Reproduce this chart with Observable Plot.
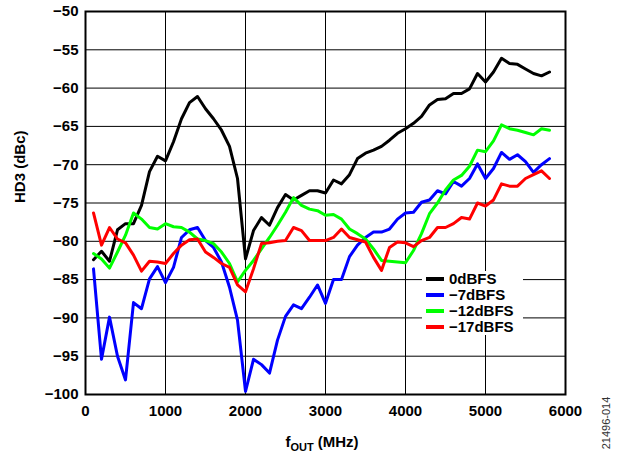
<!DOCTYPE html>
<html><head><meta charset="utf-8">
<script src="https://cdn.jsdelivr.net/npm/d3@7"></script>
<script src="https://cdn.jsdelivr.net/npm/@observablehq/plot@0.6"></script>
<style>
body{margin:0;background:#fff;}
#wrap{position:relative;width:618px;height:452px;font-family:"Liberation Sans",Arial,sans-serif;}
#legend{position:absolute;left:422px;top:271px;width:101px;background:#fff;font-weight:bold;font-size:15px;color:#000;}
.row{height:16px;line-height:16px;display:flex;align-items:center;white-space:nowrap;}
.row svg{margin-left:4px;margin-right:5px;flex:none;}
</style></head><body><div id="wrap"></div>
<script>
const freq = [100,200,300,400,500,600,700,800,900,1000,1100,1200,1300,1400,1500,1600,1700,1800,1900,2000,2100,2200,2300,2400,2500,2600,2700,2800,2900,3000,3100,3200,3300,3400,3500,3600,3700,3800,3900,4000,4100,4200,4300,4400,4500,4600,4700,4800,4900,5000,5100,5200,5300,5400,5500,5600,5700,5800];
const hd3_0dBFS = [-82.4,-81.3,-82.6,-78.5,-77.7,-77.7,-75.3,-70.9,-68.9,-69.5,-67.0,-64.0,-61.9,-61.1,-62.7,-64.0,-65.5,-67.6,-71.8,-82.3,-78.6,-76.9,-77.9,-75.6,-73.9,-74.6,-74.0,-73.4,-73.4,-73.7,-72.0,-72.5,-71.3,-69.2,-68.5,-68.1,-67.6,-66.8,-65.9,-65.3,-64.6,-63.7,-62.2,-61.5,-61.4,-60.7,-60.7,-60.1,-58.1,-59.2,-57.9,-56.1,-56.8,-56.9,-57.5,-58.1,-58.4,-57.9];
const hd3_7dBFS = [-83.6,-95.4,-89.9,-95.0,-98.1,-88.0,-88.8,-84.9,-83.3,-85.4,-83.4,-79.5,-78.5,-78.2,-79.9,-80.8,-82.7,-86.0,-90.3,-99.6,-95.4,-96.1,-97.2,-92.9,-89.8,-88.3,-88.8,-87.3,-85.7,-88.1,-85.0,-85.0,-82.0,-80.5,-79.5,-78.8,-78.8,-78.4,-77.1,-76.3,-76.2,-74.9,-74.6,-73.4,-73.8,-72.2,-72.8,-71.8,-69.9,-71.8,-70.5,-68.4,-69.3,-68.7,-69.6,-71.0,-70.0,-69.2];
const hd3_12dBFS = [-81.6,-82.3,-83.5,-81.4,-79.2,-76.3,-77.1,-78.2,-78.4,-77.7,-78.1,-78.2,-78.8,-79.7,-79.9,-80.3,-81.4,-82.9,-85.3,-83.8,-82.5,-81.0,-79.5,-77.9,-76.2,-74.3,-75.3,-75.8,-76.0,-76.6,-76.5,-77.1,-78.4,-79.0,-79.7,-81.0,-82.5,-82.6,-82.7,-82.8,-81.2,-79.0,-76.4,-75.0,-73.3,-72.0,-71.4,-70.2,-68.1,-68.3,-66.9,-64.8,-65.3,-65.5,-65.8,-66.1,-65.3,-65.5];
const hd3_17dBFS = [-76.3,-80.5,-78.2,-79.7,-80.2,-81.8,-83.9,-82.6,-82.7,-82.9,-81.6,-80.5,-79.8,-79.7,-81.4,-82.1,-82.9,-83.4,-85.7,-86.6,-83.6,-80.3,-80.2,-80.0,-79.9,-78.2,-78.6,-79.9,-79.9,-79.9,-79.5,-78.4,-79.5,-79.8,-80.1,-82.1,-83.8,-80.8,-80.1,-80.2,-80.7,-79.9,-79.5,-78.2,-78.2,-77.7,-76.9,-77.1,-75.0,-75.4,-74.6,-72.5,-72.8,-72.8,-71.8,-71.3,-70.8,-71.8];
const seriesNames = ["0dBFS", "\u22127dBFS", "\u221212dBFS", "\u221217dBFS"];
const seriesColors = ["#000000", "#0000ff", "#00ff00", "#ff0000"];
const xTicks = [0,1000,2000,3000,4000,5000,6000];
const yTicks = [-50,-55,-60,-65,-70,-75,-80,-85,-90,-95,-100];
const yTitle = "HD3 (dBc)";
const figureId = "21496-014";

const allSeries = [hd3_0dBFS, hd3_7dBFS, hd3_12dBFS, hd3_17dBFS];
const rows = [];
allSeries.forEach((vals, i) => vals.forEach((v, j) => rows.push({f: freq[j], v, s: seriesNames[i]})));

const font = "'Liberation Sans', Arial, sans-serif";
const fmt = d3.format("d");

const chart = Plot.plot({
  width: 618, height: 452,
  marginLeft: 85, marginRight: 53, marginTop: 11, marginBottom: 58,
  style: {fontFamily: font, fontSize: "15px", fontWeight: "bold", color: "#000", background: "#fff"},
  x: {domain: [0, 6000]},
  y: {domain: [-100, -50]},
  color: {domain: seriesNames, range: seriesColors},
  marks: [
    Plot.gridX(xTicks, {stroke: "#000", strokeOpacity: 1, strokeWidth: 1}),
    Plot.gridY(yTicks, {stroke: "#000", strokeOpacity: 1, strokeWidth: 1}),
    Plot.line(rows, {x: "f", y: "v", z: "s", stroke: "s", strokeWidth: 3, strokeLinejoin: "round"}),
    Plot.frame({stroke: "#000", strokeWidth: 2}),
    Plot.axisX(xTicks, {tickSize: 0, tickPadding: 11, tickFormat: fmt, fontSize: 15, fontWeight: "bold", label: null}),
    Plot.axisY(yTicks, {tickSize: 0, tickPadding: 7, tickFormat: fmt, fontSize: 15, fontWeight: "bold", label: null}),
    Plot.text([yTitle], {frameAnchor: "left", dx: -65, rotate: -90, fontSize: 15, fontWeight: "bold"})
  ]
});

const svg = d3.select(chart);
const t = svg.append("text").attr("x", 322).attr("y", 447).attr("text-anchor", "middle")
  .style("font-size", "15px").style("font-weight", "bold").style("font-family", font).attr("fill", "#000");
t.append("tspan").text("f");
t.append("tspan").attr("dy", 4).style("font-size", "11px").text("OUT");
t.append("tspan").attr("dy", -4).text(" (MHz)");
svg.append("text").attr("transform", "translate(610,423) rotate(-90)").attr("text-anchor", "middle")
  .style("font-size", "11px").style("font-weight", "normal").style("font-family", font).attr("fill", "#333").text(figureId);

const wrap = document.getElementById("wrap");
wrap.appendChild(chart);
const legend = document.createElement("div");
legend.id = "legend";
seriesNames.forEach((name, i) => {
  const row = document.createElement("div");
  row.className = "row";
  row.innerHTML = `<svg width="18" height="6"><line x1="0" x2="18" y1="3" y2="3" stroke="${seriesColors[i]}" stroke-width="4"/></svg><span>${name}</span>`;
  legend.appendChild(row);
});
wrap.appendChild(legend);
</script>
</body></html>
